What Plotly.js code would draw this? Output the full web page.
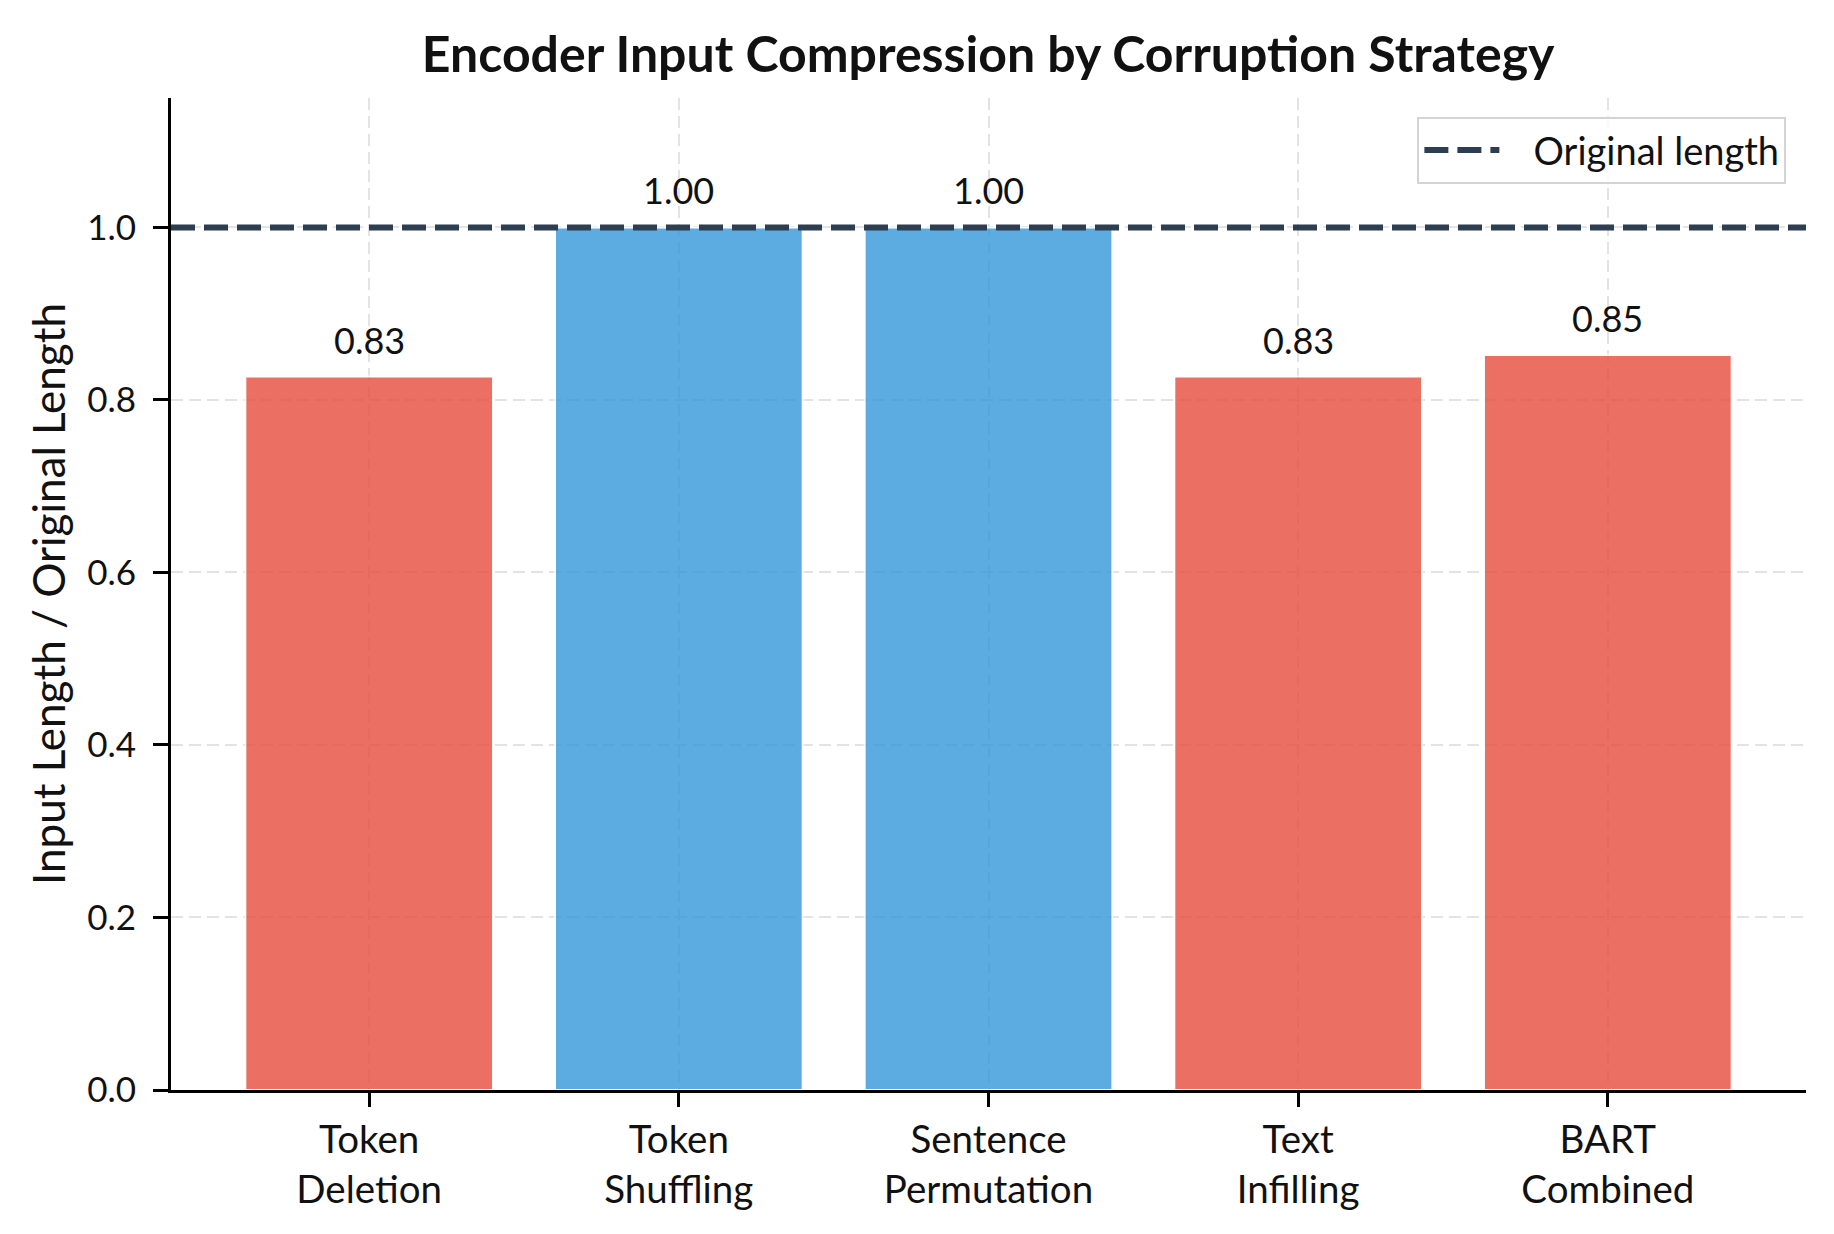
<!DOCTYPE html>
<html>
<head>
<meta charset="utf-8">
<script src="https://cdn.plot.ly/plotly-3.0.1.min.js"></script>
<style>
  html, body { margin: 0; padding: 0; background: #fff; }
  #chart { width: 1834px; height: 1234px; }
</style>
</head>
<body>
<div id="chart"></div>
<script>
// corruption strategies and their encoder input / original length ratio
const strategies = ['Token Deletion', 'Token Shuffling', 'Sentence Permutation', 'Text Infilling', 'BART Combined']
const tickLabels = ['Token<br>Deletion', 'Token<br>Shuffling', 'Sentence<br>Permutation', 'Text<br>Infilling', 'BART<br>Combined']
const ratios     = [0.827, 1.0, 1.0, 0.827, 0.852]
const originalLength = 1.0

const FONT = 'Lato, "Source Sans Pro", "Noto Sans", sans-serif'

// shortened inputs in red, same-length inputs in blue
let barColors = ratios.map(r => r < originalLength ? '#e74c3c' : '#3498db')

let bars = {
    type: 'bar',
    x: strategies,
    y: ratios,
    marker: {
        color: barColors,
        opacity: 0.8,
        line: { color: '#ffffff', width: 2 },
    },
    width: 0.8,
    showlegend: false,
    hoverinfo: 'x+y',
}

// reference line spans the whole plot width on a hidden 0..1 axis
let refLine = {
    type: 'scatter',
    mode: 'lines',
    x: [0, 1],
    y: [originalLength, originalLength],
    xaxis: 'x2',
    name: '\u00a0\u00a0\u00a0Original length',
    line: { color: '#2c3e50', width: 6, dash: '24px,9px' },
    showlegend: true,
}

// value labels above each bar
let labels = ratios.map((r, i) => ({
    x: strategies[i],
    y: r,
    xref: 'x',
    yref: 'y',
    text: r.toFixed(2),
    showarrow: false,
    yanchor: 'bottom',
    yshift: 13,
    font: { family: FONT, size: 36, color: '#111' },
}))

let layout = {
    width: 1834,
    height: 1234,
    paper_bgcolor: '#ffffff',
    plot_bgcolor: '#ffffff',
    margin: { l: 171, r: 28, t: 98, b: 144 },
    font: { family: FONT, size: 36, color: '#111' },
    title: {
        text: '<b>Encoder Input Compression by Corruption Strategy</b>',
        font: { family: FONT, size: 50, color: '#111' },
        x: 0.5388, xanchor: 'center',
        y: 0.97, yanchor: 'top',
    },
    xaxis: {
        type: 'category',
        range: [-0.64, 4.64],
        tickvals: strategies,
        ticktext: tickLabels,
        showline: true, linecolor: '#000', linewidth: 3,
        ticks: 'outside', ticklen: 14, tickwidth: 3, tickcolor: '#000',
        showgrid: true, gridcolor: '#e3e3e3', gridwidth: 2, griddash: '12px,6px',
        zeroline: false,
        tickfont: { family: FONT, size: 38.5, color: '#111' },
    },
    xaxis2: {
        overlaying: 'x',
        range: [0, 1],
        visible: false,
        fixedrange: true,
    },
    yaxis: {
        range: [0, 1.15],
        tickvals: [0, 0.2, 0.4, 0.6, 0.8, 1.0],
        ticktext: ['0.0', '0.2', '0.4', '0.6', '0.8', '1.0'],
        showline: true, linecolor: '#000', linewidth: 3,
        ticks: 'outside', ticklen: 15, tickwidth: 3, tickcolor: '#000',
        showgrid: true, gridcolor: '#e3e3e3', gridwidth: 2, griddash: '12px,6px',
        zeroline: false,
        tickfont: { family: FONT, size: 35, color: '#111' },
        ticklabelstandoff: 10,
        title: {
            text: 'Input Length / Original Length',
            font: { family: FONT, size: 44, color: '#111' },
            standoff: 8,
        },
    },
    legend: {
        x: 0.988, xanchor: 'right',
        y: 0.981, yanchor: 'top',
        bgcolor: 'rgba(255,255,255,0.8)',
        bordercolor: '#d4d4d4',
        borderwidth: 2,
        font: { family: FONT, size: 38, color: '#111' },
        itemwidth: 75,
    },
    annotations: labels,
    bargap: 0.2,
}

Plotly.newPlot('chart', [bars, refLine], layout, { displayModeBar: false, staticPlot: true })
</script>
</body>
</html>
